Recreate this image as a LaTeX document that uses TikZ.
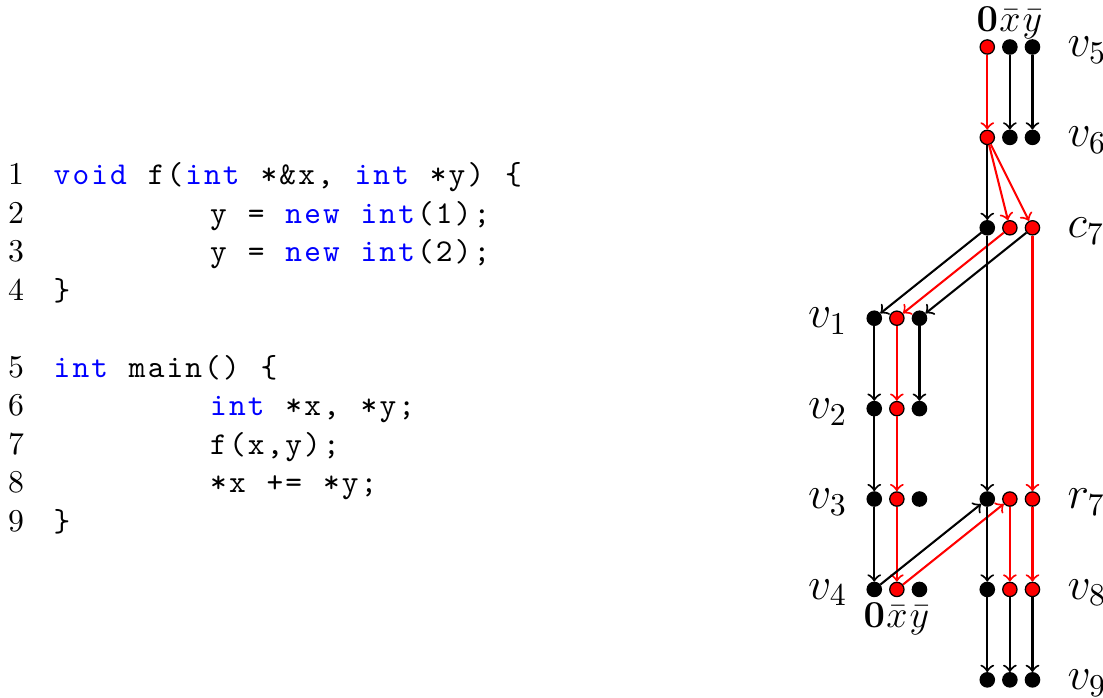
\documentclass[tikz,border=0pt]{standalone}
\usepackage{xcolor}
\usepackage{tikz}
\usetikzlibrary{positioning}

% one fixed column per character, as in a listing
\newlength{\chw}
\setlength{\chw}{5.92pt}
\ExplSyntaxOn
\NewDocumentCommand \tts { m } { \str_map_inline:nn { #1 } { \makebox[\chw]{##1} } }
\ExplSyntaxOff
\newcommand{\kw}[1]{\textcolor{blue}{\tts{#1}}}
\newcommand{\lbr}{\makebox[\chw]{\{}}
\newcommand{\rbr}{\makebox[\chw]{\}}}

\begin{document}
\begin{tikzpicture}[
        line width=0.65pt,
        % Styles for the code
        code/.style={font=\ttfamily, inner sep=0pt, anchor=base west},
        num/.style={inner sep=0pt, anchor=base east},
        % Styles for the graph
        dot/.style={circle, draw=black, fill=black, line width=0.4pt,
            inner sep=0pt, minimum size=4.5pt},
        rdot/.style={dot, fill=red},
        arr/.style={->},
        rarr/.style={->, red},
        lbl/.style={inner sep=0pt, font=\fontsize{14.4}{17}\selectfont},
        sml/.style={inner sep=0pt, font=\fontsize{11.5}{13}\selectfont}
    ]
    \useasboundingbox (0,0) rectangle (12.2,7.72);

    % 1. LINE NUMBERS
    \node[num] (n1) at (0.277, 5.675) {1};
    \node[num] (n2) at (0.277, 5.249) {2};
    \node[num] (n3) at (0.277, 4.823) {3};
    \node[num] (n4) at (0.277, 4.397) {4};
    \node[num] (n5) at (0.277, 3.545) {5};
    \node[num] (n6) at (0.277, 3.119) {6};
    \node[num] (n7) at (0.277, 2.693) {7};
    \node[num] (n8) at (0.277, 2.267) {8};
    \node[num] (n9) at (0.277, 1.841) {9};

    % 2. CODE LINES
    \node[code] (c1) at (0.571, 5.675) {\kw{void}\tts{ f(}\kw{int}\tts{ *&x, }\kw{int}\tts{ *y) }\lbr};
    \node[code] (c2) at (2.302, 5.249) {\tts{y = }\kw{new}\tts{ }\kw{int}\tts{(1);}};
    \node[code] (c3) at (2.302, 4.823) {\tts{y = }\kw{new}\tts{ }\kw{int}\tts{(2);}};
    \node[code] (c4) at (0.571, 4.397) {\rbr};
    \node[code] (c5) at (0.571, 3.545) {\kw{int}\tts{ main() }\lbr};
    \node[code] (c6) at (2.302, 3.119) {\kw{int}\tts{ *x, *y;}};
    \node[code] (c7) at (2.302, 2.693) {\tts{f(x,y);}};
    \node[code] (c8) at (2.302, 2.267) {\tts{*x += *y;}};
    \node[code] (c9) at (0.571, 1.841) {\rbr};

    % 3. DOTS OF THE MAIN GROUP
    \node[rdot] (v5a) at (10.92, 7.2) {}; \node[dot] (v5b) at (11.17, 7.2) {}; \node[dot] (v5c) at (11.42, 7.2) {};
    \node[rdot] (v6a) at (10.92, 6.2) {}; \node[dot] (v6b) at (11.17, 6.2) {}; \node[dot] (v6c) at (11.42, 6.2) {};
    \node[dot] (c7a) at (10.92, 5.2) {}; \node[rdot] (c7b) at (11.17, 5.2) {}; \node[rdot] (c7c) at (11.42, 5.2) {};
    \node[dot] (r7a) at (10.92, 2.2) {}; \node[rdot] (r7b) at (11.17, 2.2) {}; \node[rdot] (r7c) at (11.42, 2.2) {};
    \node[dot] (v8a) at (10.92, 1.2) {}; \node[rdot] (v8b) at (11.17, 1.2) {}; \node[rdot] (v8c) at (11.42, 1.2) {};
    \node[dot] (v9a) at (10.92, 0.2) {}; \node[dot] (v9b) at (11.17, 0.2) {}; \node[dot] (v9c) at (11.42, 0.2) {};

    % 4. DOTS OF THE CALLED FUNCTION
    \node[dot] (v1a) at (9.67, 4.2) {}; \node[rdot] (v1b) at (9.92, 4.2) {}; \node[dot] (v1c) at (10.17, 4.2) {};
    \node[dot] (v2a) at (9.67, 3.2) {}; \node[rdot] (v2b) at (9.92, 3.2) {}; \node[dot] (v2c) at (10.17, 3.2) {};
    \node[dot] (v3a) at (9.67, 2.2) {}; \node[rdot] (v3b) at (9.92, 2.2) {}; \node[dot] (v3c) at (10.17, 2.2) {};
    \node[dot] (v4a) at (9.67, 1.2) {}; \node[rdot] (v4b) at (9.92, 1.2) {}; \node[dot] (v4c) at (10.17, 1.2) {};

    % 5. ROW LABELS
    \node[lbl, right=0.29cm of v5c, yshift=-1pt] (lv5) {$v_5$};
    \node[lbl, right=0.29cm of v6c, yshift=-1pt] (lv6) {$v_6$};
    \node[lbl, right=0.29cm of c7c, yshift=-1pt] (lc7) {$c_7$};
    \node[lbl, right=0.29cm of r7c, yshift=-1pt] (lr7) {$r_7$};
    \node[lbl, right=0.29cm of v8c, yshift=-1pt] (lv8) {$v_8$};
    \node[lbl, right=0.29cm of v9c, yshift=-1pt] (lv9) {$v_9$};
    \node[lbl, left=0.2cm of v1a, yshift=-1pt] (lv1) {$v_1$};
    \node[lbl, left=0.2cm of v2a, yshift=-1pt] (lv2) {$v_2$};
    \node[lbl, left=0.2cm of v3a, yshift=-1pt] (lv3) {$v_3$};
    \node[lbl, left=0.2cm of v4a, yshift=-1pt] (lv4) {$v_4$};

    % 6. COLUMN LABELS
    \node[sml, above=0.08cm of v5a, anchor=base] (t0) {$\mathbf{0}$};
    \node[sml, above=0.08cm of v5b, anchor=base] (tx) {$\bar{x}$};
    \node[sml, above=0.08cm of v5c, anchor=base] (ty) {$\bar{y}$};
    \node[sml, below=0.34cm of v4a, anchor=base] (b0) {$\mathbf{0}$};
    \node[sml, below=0.34cm of v4b, anchor=base] (bx) {$\bar{x}$};
    \node[sml, below=0.34cm of v4c, anchor=base] (by) {$\bar{y}$};

    % 7. EDGES
    \draw[rarr] (v5a) -- (v6a);
    \draw[arr] (v5b) -- (v6b);
    \draw[arr] (v5c) -- (v6c);

    \draw[arr] (v6a) -- (c7a);
    \draw[rarr] (v6a) -- (c7b);
    \draw[rarr] (v6a) -- (c7c);

    % call edges
    \draw[arr] (c7a) -- (v1a);
    \draw[rarr] (c7b) -- (v1b);
    \draw[arr] (c7c) -- (v1c);

    % call-to-return edges
    \draw[arr] (c7a) -- (r7a);
    \draw[rarr] (c7c) -- (r7c);

    \draw[arr] (v1a) -- (v2a);
    \draw[rarr] (v1b) -- (v2b);
    \draw[arr] (v1c) -- (v2c);

    \draw[arr] (v2a) -- (v3a);
    \draw[rarr] (v2b) -- (v3b);

    \draw[arr] (v3a) -- (v4a);
    \draw[rarr] (v3b) -- (v4b);

    % return edges
    \draw[arr] (v4a) -- (r7a);
    \draw[rarr] (v4b) -- (r7b);

    \draw[arr] (r7a) -- (v8a);
    \draw[rarr] (r7b) -- (v8b);
    \draw[rarr] (r7c) -- (v8c);

    \draw[arr] (v8a) -- (v9a);
    \draw[arr] (v8b) -- (v9b);
    \draw[arr] (v8c) -- (v9c);

\end{tikzpicture}
\end{document}
